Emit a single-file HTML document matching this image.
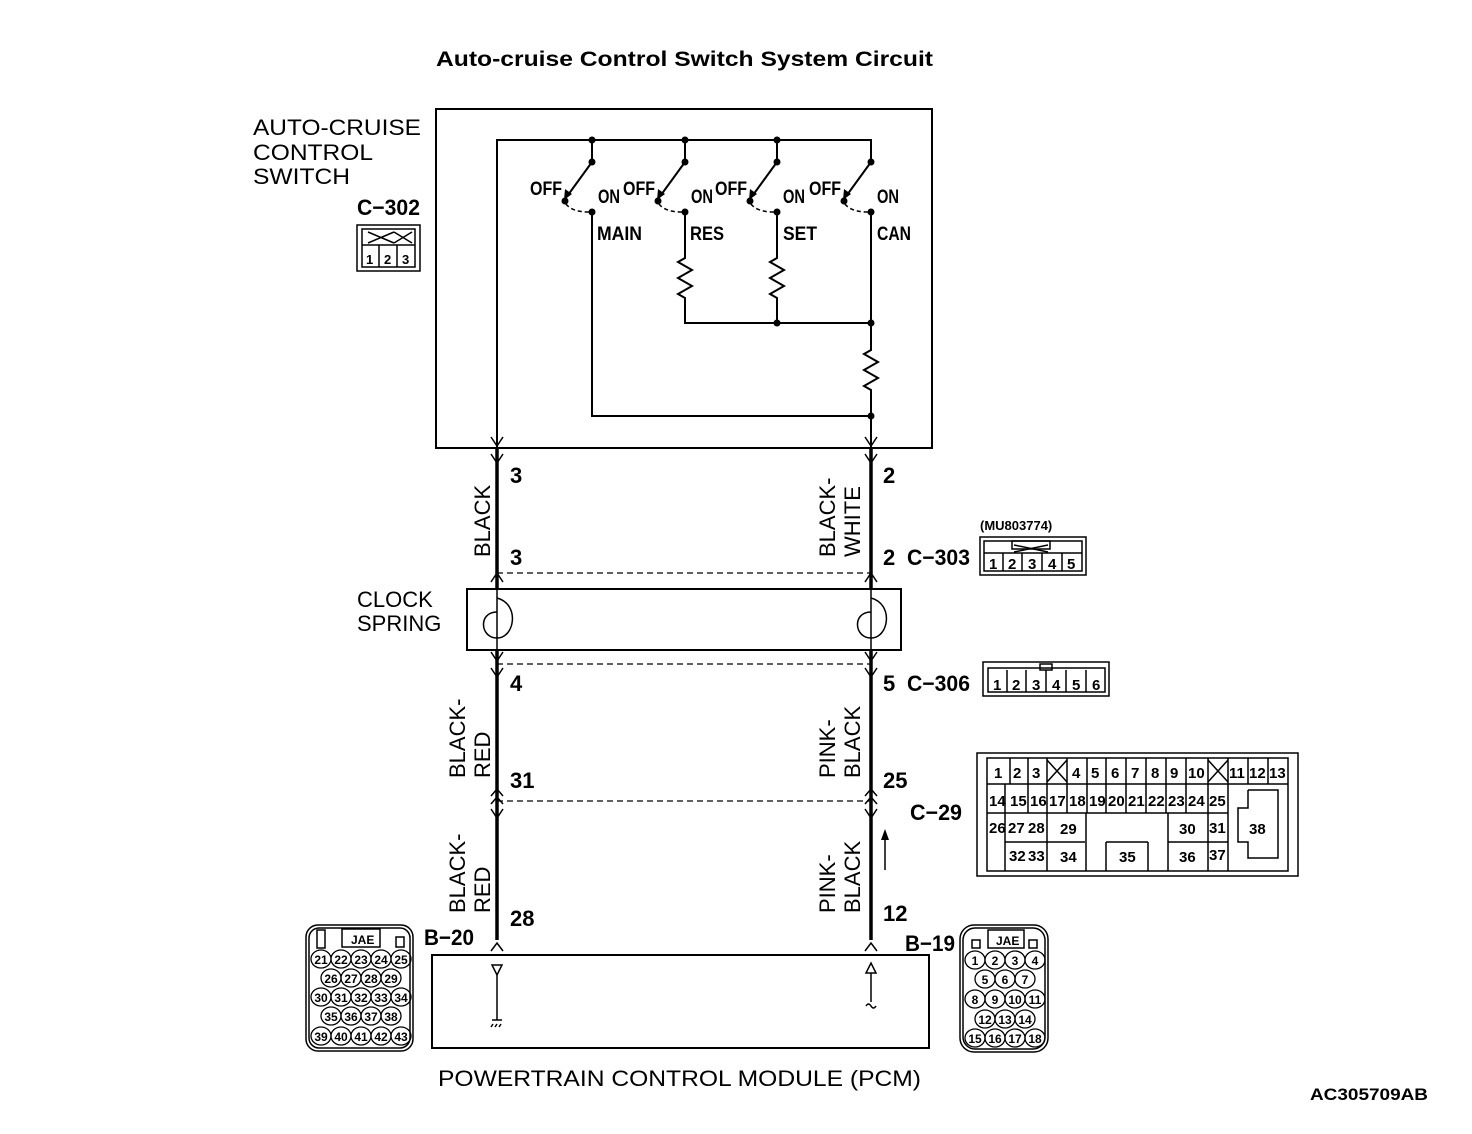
<!DOCTYPE html>
<html><head><meta charset="utf-8"><style>
html,body{margin:0;padding:0;background:#fff}
svg{display:block}
text{font-family:"Liberation Sans",sans-serif;fill:#000}
.b{font-weight:bold}
.n{font-family:"Liberation Sans Narrow","Liberation Sans",sans-serif;font-weight:bold}
.c text{text-anchor:middle;font-weight:bold;font-size:12px}
.c ellipse{fill:none;stroke:#000;stroke-width:1.3}
</style></head><body>
<svg width="1472" height="1134" viewBox="0 0 1472 1134" xmlns="http://www.w3.org/2000/svg">
<text x="436" y="66" class="b" font-size="21" textLength="497" lengthAdjust="spacingAndGlyphs">Auto-cruise Control Switch System Circuit</text>

<rect x="436" y="109" width="496" height="339" fill="none" stroke="#000" stroke-width="2"/>
<text x="253" y="135" font-size="22" textLength="168" lengthAdjust="spacingAndGlyphs">AUTO-CRUISE</text>
<text x="253" y="160" font-size="22" textLength="120" lengthAdjust="spacingAndGlyphs">CONTROL</text>
<text x="253" y="184" font-size="22" textLength="97" lengthAdjust="spacingAndGlyphs">SWITCH</text>
<text x="357" y="215" class="n" font-size="22" textLength="63" lengthAdjust="spacingAndGlyphs">C−302</text>
<g fill="none" stroke="#000" stroke-width="1.5">
<rect x="357" y="225" width="63" height="46"/>
<rect x="362" y="229" width="53" height="38"/>
<line x1="362" y1="245" x2="415" y2="245"/>
<line x1="379" y1="245" x2="379" y2="267"/><line x1="397" y1="245" x2="397" y2="267"/>
<line x1="368" y1="232" x2="394" y2="243"/><line x1="368" y1="243" x2="394" y2="232"/>
<line x1="394" y1="232" x2="412" y2="243"/><line x1="394" y1="243" x2="412" y2="232"/>
</g>
<text x="366" y="264" font-size="13" class="b">1</text><text x="384" y="264" font-size="13" class="b">2</text><text x="402" y="264" font-size="13" class="b">3</text>

<g fill="none" stroke="#000" stroke-width="2">
<polyline points="497,448 497,140 871,140 871,162"/>
<line x1="592" y1="140" x2="592" y2="162"/>
<line x1="685" y1="140" x2="685" y2="162"/>
<line x1="777" y1="140" x2="777" y2="162"/>
<polyline points="592,212 592,416 871,416"/>
<polyline points="685,212 685,258 678,262 692,270 678,278 692,286 678,294 685,298 685,323 871,323"/>
<polyline points="777,212 777,258 770,262 784,270 770,278 784,286 770,294 777,298 777,323"/>
<polyline points="871,212 871,350 864,354 878,362 864,370 878,378 864,386 871,390 871,460"/>
</g>
<g fill="#000">
<circle cx="592" cy="140" r="3.5"/><circle cx="685" cy="140" r="3.5"/><circle cx="777" cy="140" r="3.5"/>
<circle cx="777" cy="323" r="3.5"/><circle cx="871" cy="323" r="3.5"/><circle cx="871" cy="416" r="3.5"/>
</g>
<g id="sw">
<circle cx="592" cy="162" r="3.5"/>
<line x1="592" y1="162" x2="568" y2="195" stroke="#000" stroke-width="2"/>
<polygon points="564,200 565,189 572,194"/>
<circle cx="565" cy="201" r="3.5"/>
<circle cx="592" cy="212" r="3.5"/>
<path d="M566,204 Q572,212 589,212" fill="none" stroke="#000" stroke-width="1.5" stroke-dasharray="4,3"/>
<text x="530" y="195" class="n" font-size="19" textLength="32" lengthAdjust="spacingAndGlyphs">OFF</text>
<text x="598" y="203" class="n" font-size="19" textLength="22" lengthAdjust="spacingAndGlyphs">ON</text>
</g>
<use href="#sw" x="93"/><use href="#sw" x="185"/><use href="#sw" x="279"/>
<text x="597" y="240" class="n" font-size="19" textLength="45" lengthAdjust="spacingAndGlyphs">MAIN</text>
<text x="690" y="240" class="n" font-size="19" textLength="34" lengthAdjust="spacingAndGlyphs">RES</text>
<text x="783" y="240" class="n" font-size="19" textLength="34" lengthAdjust="spacingAndGlyphs">SET</text>
<text x="877" y="240" class="n" font-size="19" textLength="34" lengthAdjust="spacingAndGlyphs">CAN</text>

<g stroke="#000" fill="none">
<line x1="497" y1="448" x2="497" y2="940" stroke-width="3.5"/>
<line x1="871" y1="448" x2="871" y2="940" stroke-width="3.5"/>
<line x1="497" y1="573" x2="871" y2="573" stroke-width="1.2" stroke-dasharray="6,4"/>
<line x1="497" y1="664" x2="871" y2="664" stroke-width="1.2" stroke-dasharray="6,4"/>
<line x1="497" y1="801" x2="871" y2="801" stroke-width="1.2" stroke-dasharray="6,4"/>
<g stroke-width="1.5">
<polyline points="491,437 497,446 503,437"/><polyline points="865,437 871,446 877,437"/>
<polyline points="491,454 497,463 503,454"/><polyline points="865,454 871,463 877,454"/>
<polyline points="491,582 497,573 503,582"/><polyline points="865,582 871,573 877,582"/>
<polyline points="491,652 497,661 503,652"/><polyline points="865,652 871,661 877,652"/>
<polyline points="491,668 497,677 503,668"/><polyline points="865,668 871,677 877,668"/>
<polyline points="491,796 497,789 503,796"/><polyline points="865,796 871,789 877,796"/>
<polyline points="491,804 497,797 503,804"/><polyline points="865,804 871,797 877,804"/>
<polyline points="491,809 497,818 503,809"/><polyline points="865,809 871,818 877,809"/>
<polyline points="491,951 497,943 503,951"/><polyline points="865,951 871,943 877,951"/>
</g>
</g>
<rect x="467" y="589" width="434" height="61" fill="#fff" stroke="#000" stroke-width="2"/>
<g fill="none" stroke="#000" stroke-width="1.5">
<line x1="497" y1="589" x2="497" y2="650"/><line x1="871" y1="589" x2="871" y2="650"/>
<path d="M497,598 C520,604 515,638 497,638 C480,638 478,612 497,612"/>
<path d="M871,598 C894,604 889,638 871,638 C854,638 852,612 871,612"/>
</g>
<text x="357" y="607" font-size="22">CLOCK</text>
<text x="357" y="631" font-size="22">SPRING</text>

<g font-size="22">
<text x="510" y="483" class="n">3</text><text x="883" y="483" class="n">2</text>
<text x="510" y="565" class="n">3</text><text x="883" y="565" class="n">2</text><text x="907" y="565" class="n" textLength="63" lengthAdjust="spacingAndGlyphs">C−303</text>
<text x="510" y="691" class="n">4</text><text x="883" y="691" class="n">5</text><text x="907" y="691" class="n" textLength="63" lengthAdjust="spacingAndGlyphs">C−306</text>
<text x="510" y="788" class="n">31</text><text x="883" y="788" class="n">25</text>
<text x="910" y="820" class="n" textLength="52" lengthAdjust="spacingAndGlyphs">C−29</text>
<text x="510" y="926" class="n">28</text><text x="883" y="921" class="n">12</text>
<text x="424" y="945" class="n" textLength="50" lengthAdjust="spacingAndGlyphs">B−20</text><text x="905" y="951" class="n" textLength="50" lengthAdjust="spacingAndGlyphs">B−19</text>
</g>
<g font-size="22">
<text transform="translate(490,557) rotate(-90)">BLACK</text>
<text transform="translate(835,557) rotate(-90)">BLACK-</text>
<text transform="translate(860,557) rotate(-90)">WHITE</text>
<text transform="translate(465,778) rotate(-90)">BLACK-</text>
<text transform="translate(490,778) rotate(-90)">RED</text>
<text transform="translate(835,778) rotate(-90)">PINK-</text>
<text transform="translate(860,778) rotate(-90)">BLACK</text>
<text transform="translate(465,913) rotate(-90)">BLACK-</text>
<text transform="translate(490,913) rotate(-90)">RED</text>
<text transform="translate(835,913) rotate(-90)">PINK-</text>
<text transform="translate(860,913) rotate(-90)">BLACK</text>
</g>
<line x1="885" y1="870" x2="885" y2="838" stroke="#000" stroke-width="1.5"/>
<polygon points="885,829 881,840 889,840"/>

<text x="980" y="530" class="n" font-size="13">(MU803774)</text>
<g fill="none" stroke="#000" stroke-width="1.5">
<rect x="980" y="537" width="106" height="38"/>
<rect x="984" y="541" width="98" height="30"/>
<line x1="984" y1="553" x2="1082" y2="553"/>
<line x1="1003" y1="553" x2="1003" y2="571"/><line x1="1022" y1="553" x2="1022" y2="571"/><line x1="1042" y1="553" x2="1042" y2="571"/><line x1="1062" y1="553" x2="1062" y2="571"/>
<rect x="1012" y="541" width="38" height="8"/><line x1="1014" y1="545" x2="1048" y2="552"/><line x1="1014" y1="552" x2="1048" y2="545"/>
</g>
<g class="n" font-size="15"><text x="989" y="569">1</text><text x="1008" y="569">2</text><text x="1028" y="569">3</text><text x="1048" y="569">4</text><text x="1067" y="569">5</text></g>

<g fill="none" stroke="#000" stroke-width="1.5">
<rect x="983" y="662" width="126" height="34"/>
<rect x="988" y="668" width="117" height="24"/>
<rect x="1040" y="664" width="12" height="6"/>
<line x1="1007" y1="670" x2="1007" y2="692"/><line x1="1026" y1="670" x2="1026" y2="692"/><line x1="1046" y1="670" x2="1046" y2="692"/><line x1="1066" y1="670" x2="1066" y2="692"/><line x1="1086" y1="670" x2="1086" y2="692"/>
</g>
<g class="n" font-size="15"><text x="993" y="690">1</text><text x="1012" y="690">2</text><text x="1032" y="690">3</text><text x="1052" y="690">4</text><text x="1072" y="690">5</text><text x="1092" y="690">6</text></g>

<g fill="none" stroke="#000" stroke-width="1.5">
<rect x="977" y="753" width="321" height="123"/>
<rect x="987" y="758" width="301" height="113"/>
<line x1="987" y1="784" x2="1288" y2="784"/><line x1="987" y1="813" x2="1228" y2="813"/><line x1="1047" y1="842" x2="1085" y2="842"/><line x1="1168" y1="842" x2="1228" y2="842"/><line x1="1005" y1="842" x2="1047" y2="842"/>
<line x1="1010" y1="758" x2="1010" y2="784"/><line x1="1028" y1="758" x2="1028" y2="813"/><line x1="1047" y1="758" x2="1047" y2="871"/><line x1="1067" y1="758" x2="1067" y2="813"/>
<line x1="1087" y1="758" x2="1087" y2="813"/><line x1="1106" y1="758" x2="1106" y2="813"/><line x1="1126" y1="758" x2="1126" y2="813"/><line x1="1146" y1="758" x2="1146" y2="813"/><line x1="1166" y1="758" x2="1166" y2="813"/><line x1="1186" y1="758" x2="1186" y2="813"/>
<line x1="1208" y1="758" x2="1208" y2="871"/><line x1="1228" y1="758" x2="1228" y2="871"/><line x1="1248" y1="758" x2="1248" y2="784"/><line x1="1268" y1="758" x2="1268" y2="784"/>
<line x1="1005" y1="784" x2="1005" y2="871"/><line x1="1086" y1="813" x2="1086" y2="871"/><line x1="1168" y1="813" x2="1168" y2="871"/>
<line x1="1106" y1="842" x2="1106" y2="871"/><line x1="1148" y1="842" x2="1148" y2="871"/><line x1="1106" y1="842" x2="1148" y2="842"/>
<line x1="1047" y1="760" x2="1067" y2="782"/><line x1="1047" y1="782" x2="1067" y2="760"/>
<line x1="1208" y1="760" x2="1228" y2="782"/><line x1="1208" y1="782" x2="1228" y2="760"/>
<polyline points="1248,790 1278,790 1278,858 1248,858 1248,842 1238,842 1238,808 1248,808 1248,790"/>
</g>
<g class="n" font-size="15">
<text x="994" y="778">1</text><text x="1013" y="778">2</text><text x="1032" y="778">3</text><text x="1072" y="778">4</text><text x="1091" y="778">5</text><text x="1111" y="778">6</text><text x="1131" y="778">7</text><text x="1151" y="778">8</text><text x="1170" y="778">9</text><text x="1188" y="778">10</text><text x="1229" y="778">11</text><text x="1249" y="778">12</text><text x="1269" y="778">13</text>
<text x="989" y="806">14</text><text x="1010" y="806">15</text><text x="1030" y="806">16</text><text x="1049" y="806">17</text><text x="1069" y="806">18</text><text x="1089" y="806">19</text><text x="1108" y="806">20</text><text x="1128" y="806">21</text><text x="1148" y="806">22</text><text x="1168" y="806">23</text><text x="1188" y="806">24</text><text x="1209" y="806">25</text>
<text x="989" y="833">26</text><text x="1008" y="833">27</text><text x="1028" y="833">28</text><text x="1060" y="834">29</text><text x="1179" y="834">30</text><text x="1209" y="833">31</text><text x="1249" y="834">38</text>
<text x="1009" y="861">32</text><text x="1028" y="861">33</text><text x="1060" y="862">34</text><text x="1119" y="862">35</text><text x="1179" y="862">36</text><text x="1209" y="860">37</text>
</g>

<rect x="432" y="955" width="497" height="93" fill="none" stroke="#000" stroke-width="2"/>
<g stroke="#000" fill="none" stroke-width="1.5">
<polygon points="492,965 502,965 497,975"/><line x1="497" y1="975" x2="497" y2="1020"/>
<line x1="492" y1="1020" x2="502" y2="1020"/><line x1="493" y1="1024" x2="491" y2="1027"/><line x1="497" y1="1024" x2="495" y2="1027"/><line x1="501" y1="1024" x2="499" y2="1027"/>
<polygon points="866,973 876,973 871,963"/><line x1="871" y1="973" x2="871" y2="1002"/>
<path d="M866,1006 q2.5,-4 5,0 t5,0"/>
</g>
<text x="438" y="1086" font-size="22" textLength="483" lengthAdjust="spacingAndGlyphs">POWERTRAIN CONTROL MODULE (PCM)</text>
<text x="1310" y="1100" class="b" font-size="17" textLength="118" lengthAdjust="spacingAndGlyphs">AC305709AB</text>

<!-- B-20 -->
<g fill="none" stroke="#000" stroke-width="1.5">
<rect x="306" y="925" width="107" height="126" rx="12"/>
<rect x="309" y="928" width="101" height="120" rx="10"/>
<rect x="317" y="930" width="8" height="18"/><rect x="342" y="929" width="38" height="18"/><rect x="396" y="937" width="8" height="10"/>
</g>
<text x="351" y="944" class="n" font-size="12">JAE</text>
<g class="c">
<ellipse cx="321" cy="959" rx="10" ry="9"/><ellipse cx="341" cy="959" rx="10" ry="9"/><ellipse cx="361" cy="959" rx="10" ry="9"/><ellipse cx="381" cy="959" rx="10" ry="9"/><ellipse cx="401" cy="959" rx="10" ry="9"/>
<text x="321" y="964">21</text><text x="341" y="964">22</text><text x="361" y="964">23</text><text x="381" y="964">24</text><text x="401" y="964">25</text>
<ellipse cx="331" cy="978" rx="10" ry="9"/><ellipse cx="351" cy="978" rx="10" ry="9"/><ellipse cx="371" cy="978" rx="10" ry="9"/><ellipse cx="391" cy="978" rx="10" ry="9"/>
<text x="331" y="983">26</text><text x="351" y="983">27</text><text x="371" y="983">28</text><text x="391" y="983">29</text>
<ellipse cx="321" cy="997" rx="10" ry="9"/><ellipse cx="341" cy="997" rx="10" ry="9"/><ellipse cx="361" cy="997" rx="10" ry="9"/><ellipse cx="381" cy="997" rx="10" ry="9"/><ellipse cx="401" cy="997" rx="10" ry="9"/>
<text x="321" y="1002">30</text><text x="341" y="1002">31</text><text x="361" y="1002">32</text><text x="381" y="1002">33</text><text x="401" y="1002">34</text>
<ellipse cx="331" cy="1016" rx="10" ry="9"/><ellipse cx="351" cy="1016" rx="10" ry="9"/><ellipse cx="371" cy="1016" rx="10" ry="9"/><ellipse cx="391" cy="1016" rx="10" ry="9"/>
<text x="331" y="1021">35</text><text x="351" y="1021">36</text><text x="371" y="1021">37</text><text x="391" y="1021">38</text>
<ellipse cx="321" cy="1036" rx="10" ry="9"/><ellipse cx="341" cy="1036" rx="10" ry="9"/><ellipse cx="361" cy="1036" rx="10" ry="9"/><ellipse cx="381" cy="1036" rx="10" ry="9"/><ellipse cx="401" cy="1036" rx="10" ry="9"/>
<text x="321" y="1041">39</text><text x="341" y="1041">40</text><text x="361" y="1041">41</text><text x="381" y="1041">42</text><text x="401" y="1041">43</text>
</g>
<!-- B-19 -->
<g fill="none" stroke="#000" stroke-width="1.5">
<rect x="960" y="925" width="88" height="127" rx="14"/>
<rect x="963" y="928" width="82" height="121" rx="12"/>
<rect x="988" y="930" width="36" height="18"/><rect x="972" y="940" width="8" height="8"/><rect x="1029" y="940" width="8" height="8"/>
</g>
<text x="996" y="945" class="n" font-size="12">JAE</text>
<g class="c">
<ellipse cx="975" cy="960" rx="10" ry="9"/><ellipse cx="995" cy="960" rx="10" ry="9"/><ellipse cx="1015" cy="960" rx="10" ry="9"/><ellipse cx="1035" cy="960" rx="10" ry="9"/>
<text x="975" y="965">1</text><text x="995" y="965">2</text><text x="1015" y="965">3</text><text x="1035" y="965">4</text>
<ellipse cx="985" cy="979" rx="10" ry="9"/><ellipse cx="1005" cy="979" rx="10" ry="9"/><ellipse cx="1025" cy="979" rx="10" ry="9"/>
<text x="985" y="984">5</text><text x="1005" y="984">6</text><text x="1025" y="984">7</text>
<ellipse cx="975" cy="999" rx="10" ry="9"/><ellipse cx="995" cy="999" rx="10" ry="9"/><ellipse cx="1015" cy="999" rx="10" ry="9"/><ellipse cx="1035" cy="999" rx="10" ry="9"/>
<text x="975" y="1004">8</text><text x="995" y="1004">9</text><text x="1015" y="1004">10</text><text x="1035" y="1004">11</text>
<ellipse cx="985" cy="1019" rx="10" ry="9"/><ellipse cx="1005" cy="1019" rx="10" ry="9"/><ellipse cx="1025" cy="1019" rx="10" ry="9"/>
<text x="985" y="1024">12</text><text x="1005" y="1024">13</text><text x="1025" y="1024">14</text>
<ellipse cx="975" cy="1038" rx="10" ry="9"/><ellipse cx="995" cy="1038" rx="10" ry="9"/><ellipse cx="1015" cy="1038" rx="10" ry="9"/><ellipse cx="1035" cy="1038" rx="10" ry="9"/>
<text x="975" y="1043">15</text><text x="995" y="1043">16</text><text x="1015" y="1043">17</text><text x="1035" y="1043">18</text>
</g>
</svg>
</body></html>
